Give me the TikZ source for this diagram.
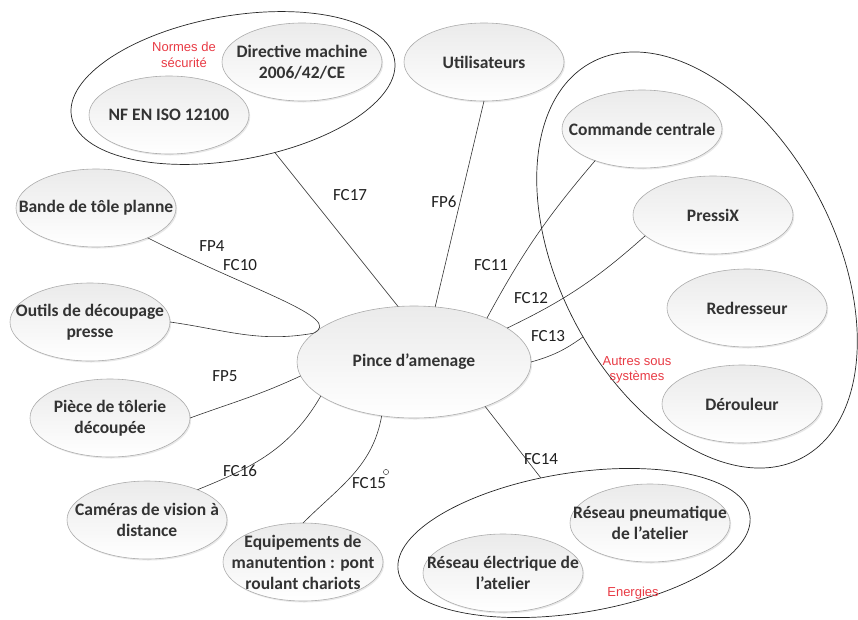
\documentclass[tikz,border=0pt]{standalone}
\usepackage{fontspec}
\setmainfont{Carlito}
\newfontfamily\arialf{Liberation Sans}
\usetikzlibrary{shapes.geometric,shadows}
\definecolor{redlbl}{RGB}{232,58,68}
\begin{document}
\begin{tikzpicture}[x=1pt,y=-1pt,
  blob/.style={ellipse, draw=gray!65, line width=0.6pt, top color=gray!16, bottom color=white,
    minimum width=160pt, minimum height=78pt, inner sep=0pt, outer sep=0pt,
    drop shadow={opacity=0.18, shadow xshift=1.2pt, shadow yshift=-1.5pt}},
  btxt/.style={font=\fontsize{17.5}{21}\selectfont\bfseries, text=black!80, align=center, inner sep=0pt},
  grp/.style={ellipse, draw=black!85, line width=0.7pt, inner sep=0pt, outer sep=0pt},
  conn/.style={draw=black!80, line width=0.6pt},
  fcl/.style={font=\fontsize{17}{20}\selectfont, text=black!88, inner sep=0pt},
  redl/.style={font=\arialf\fontsize{13}{15.5}\selectfont, text=redlbl, align=center, inner sep=0pt}]
\useasboundingbox (0,0) rectangle (858,619);

% group ellipses
\node[grp, minimum width=328pt, minimum height=144pt, rotate=10] (normes) at (233,88) {};
\node[grp, minimum width=274pt, minimum height=448pt, rotate=28] (autres) at (697,260) {};
\node[grp, minimum width=356pt, minimum height=140pt, rotate=9] (energies) at (574,543) {};

% nodes
\node[blob, label={[btxt]center:{Directive machine\\2006/42/CE}}] (directive) at (302,62) {};
\node[blob, label={[btxt]center:{NF EN ISO 12100}}] (iso) at (169,115) {};
\node[blob, label={[btxt]center:{Utilisateurs}}] (util) at (484,62) {};
\node[blob, label={[btxt]center:{Commande centrale}}] (commande) at (642,129) {};
\node[blob, label={[btxt]center:{PressiX}}] (pressix) at (713,215) {};
\node[blob, label={[btxt]center:{Redresseur}}] (redress) at (747,308) {};
\node[blob, label={[btxt]center:{Dérouleur}}] (deroul) at (742,404) {};
\node[blob, label={[btxt]center:{Bande de tôle planne}}] (bande) at (96,208) {};
\node[blob, label={[btxt]center:{Outils de découpage\\presse}}] (outils) at (90,322) {};
\node[blob, label={[btxt]center:{Pièce de tôlerie\\découpée}}] (piece) at (110,418) {};
\node[blob, label={[btxt]center:{Caméras de vision à\\distance}}] (camera) at (147,520) {};
\node[blob, label={[btxt]center:{Equipements de\\manutention : pont\\roulant chariots}}] (equip) at (303,562) {};
\node[blob, label={[btxt]center:{Réseau pneumatique\\de l’atelier}}] (pneu) at (650,523) {};
\node[blob, label={[btxt]center:{Réseau électrique de\\l’atelier}}] (elec) at (503,573) {};
\node[blob, minimum width=234pt, minimum height=112pt, label={[btxt]center:{Pince d’amenage}}] (pince) at (414,362) {};

% red group labels
\node[redl] (tnormes) at (184,55) {Normes de\\sécurité};
\node[redl] (tautres) at (637,370) {Autres sous\\systèmes};
\node[redl] (tenerg) at (633,593) {Energies};

% connectors
\draw[conn] (normes.-67) -- (pince.106);
\draw[conn] (util.-90) -- (pince.69);
\draw[conn] (commande.214) to[bend right=6] (pince.31);
\draw[conn] (pressix.197) to[bend left=8] (pince.20);
\draw[conn] (pince.0) to[bend right=10] (autres.186);
\draw[conn] (pince.-32) -- (energies.108);
\draw[conn] (equip.90) to[out=45, in=260] (pince.239);
\draw[conn] (camera.31) to[out=22, in=240] (pince.200);
\draw[conn] (piece.0) to[out=20, in=205] (pince.187);
\draw[conn] (bande.-30) .. controls (250,290) and (345,318) .. (pince.164);
\draw[conn] (outils.0) to[out=-8, in=190] (pince.164);

% connector labels
\node[fcl] (l17) at (350,195) {FC17};
\node[fcl] (lp6) at (444,202) {FP6};
\node[fcl] (l11) at (491,265) {FC11};
\node[fcl] (l12) at (531,298) {FC12};
\node[fcl] (l13) at (548,336) {FC13};
\node[fcl] (l14) at (541,459) {FC14};
\node[fcl] (l15) at (369,483) {FC15};
\node[fcl] (l16) at (240,471) {FC16};
\node[fcl] (lp5) at (225,376) {FP5};
\node[fcl] (lp4) at (212,246) {FP4};
\node[fcl] (l10) at (240,265) {FC10};
\draw[black!70, line width=0.5pt] (386,472) circle (2.6pt);
\end{tikzpicture}
\end{document}
